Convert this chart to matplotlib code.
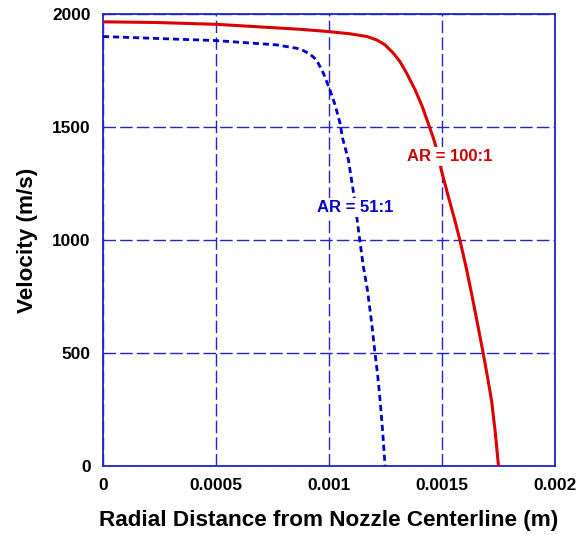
import matplotlib
matplotlib.use("Agg")
import matplotlib.pyplot as plt

plt.rcParams['font.family'] = ['Liberation Sans', 'DejaVu Sans']
plt.rcParams['font.weight'] = 'bold'

# AR = 100:1 (solid red)
r100 = [0, 0.000237, 0.0005, 0.000872, 0.000997, 0.001093, 0.001167, 0.001211,
        0.001248, 0.001285, 0.001314, 0.001344, 0.001381, 0.00141, 0.001439,
        0.001462, 0.001473, 0.001498, 0.001528, 0.001556, 0.00158, 0.001606,
        0.001631, 0.001655, 0.001683, 0.001702, 0.00172, 0.001736, 0.00175]
v100 = [1965, 1962, 1954, 1932, 1922, 1912, 1900, 1885,
        1863, 1826, 1789, 1737, 1664, 1597, 1516,
        1450, 1413, 1305, 1192, 1090, 996, 882,
        762, 640, 495, 390, 285, 145, 0]

# AR = 51:1 (dashed blue)
r51 = [0, 0.0005, 0.000768, 0.000857, 0.000886, 0.000916, 0.000945, 0.000975,
       0.001004, 0.001027, 0.001049, 0.00106, 0.001086, 0.001111, 0.001125,
       0.001137, 0.001152, 0.00117, 0.001189, 0.001204, 0.001216, 0.001226,
       0.001238, 0.001248]
v51 = [1900, 1882, 1863, 1848, 1838, 1822, 1796, 1738,
       1664, 1597, 1516, 1450, 1354, 1192, 1085,
       992, 882, 779, 631, 495, 395, 292,
       145, 0]

xticks = [0, 0.0005, 0.001, 0.0015, 0.002]
xticklabels = ['0', '0.0005', '0.001', '0.0015', '0.002']
yticks = [0, 500, 1000, 1500, 2000]

fig = plt.figure(figsize=(5.86, 5.35), dpi=100)
ax = fig.add_axes([0.1758, 0.129, 0.7713, 0.845])

ax.plot(r100, v100, color='#dd0000', lw=2.2, zorder=3)
ax.plot(r51, v51, color='#0000cc', lw=2.0, ls=(0, (2.2, 1.4)), zorder=3)

ax.set_xlim(0, 0.002)
ax.set_ylim(0, 2000)
ax.set_xticks(xticks)
ax.set_xticklabels(xticklabels)
ax.set_yticks(yticks)
ax.tick_params(length=0, labelsize=12.4)
ax.tick_params(axis='x', pad=9)
ax.tick_params(axis='y', pad=9)
for lab in ax.get_xticklabels() + ax.get_yticklabels():
    lab.set_fontweight('bold')

ax.grid(True, color='#2222cc', ls=(0, (9, 3)), lw=1.0)
for s in ax.spines.values():
    s.set_color('#2222cc')
    s.set_linewidth(1.3)

ax.set_xlabel('Radial Distance from Nozzle Centerline (m)', fontsize=16.2,
              fontweight='bold', labelpad=12)
ax.set_ylabel('Velocity (m/s)', fontsize=16.2, fontweight='bold', labelpad=10)

bb = dict(facecolor='white', edgecolor='none', pad=1.5)
ax.text(0.001535, 1367, 'AR = 100:1', color='#cc0000', fontsize=12,
        fontweight='bold', ha='center', va='center', bbox=bb, zorder=4)
ax.text(0.001115, 1142, 'AR = 51:1', color='#0000cc', fontsize=12,
        fontweight='bold', ha='center', va='center', bbox=bb, zorder=4)

fig.savefig('out.png', dpi=100)
